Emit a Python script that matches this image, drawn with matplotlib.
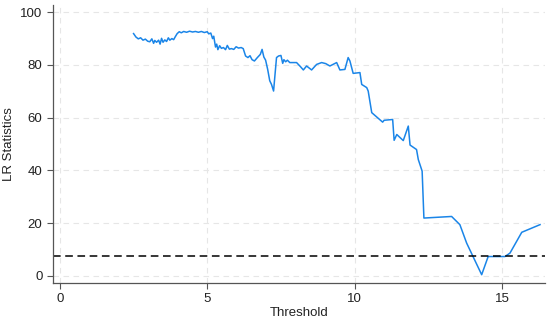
import numpy as np
import matplotlib.pyplot as plt

plt.rcParams['font.family'] = ['Liberation Sans', 'DejaVu Sans']

thr = [2.50, 2.58, 2.66, 2.74, 2.82, 2.90, 2.98, 3.05, 3.12, 3.18, 3.22, 3.28, 3.35, 3.40, 3.45,
       3.50, 3.56, 3.62, 3.68, 3.73, 3.80, 3.86, 3.92, 3.98, 4.05, 4.12, 4.20, 4.30, 4.40, 4.50,
       4.60, 4.70, 4.80, 4.90, 5.00, 5.05, 5.12, 5.18, 5.22, 5.28, 5.32, 5.36, 5.42, 5.48, 5.55,
       5.62, 5.68, 5.75, 5.82, 5.90, 5.98, 6.06, 6.15, 6.22, 6.30, 6.38, 6.45, 6.52, 6.60, 6.70,
       6.80, 6.86, 6.92, 6.98, 7.05, 7.12, 7.18, 7.25, 7.30, 7.35, 7.42, 7.50, 7.56, 7.60, 7.66,
       7.72, 7.80, 8.03, 8.15, 8.26, 8.37, 8.54, 8.71, 8.88, 9.02, 9.16, 9.39, 9.50, 9.67, 9.78,
       9.84, 9.95, 10.18, 10.24, 10.41, 10.46, 10.58, 10.95, 11.00, 11.29, 11.34, 11.43, 11.65,
       11.82, 11.88, 12.10, 12.16, 12.29, 12.35, 13.29, 13.57, 13.80, 14.31, 14.53, 15.10, 15.27,
       15.67, 16.29]
lr = [91.9, 90.6, 89.9, 90.3, 89.4, 89.8, 89.0, 88.8, 89.9, 88.2, 89.3, 88.6, 89.4, 87.9, 90.1,
      88.6, 89.5, 88.9, 90.3, 89.4, 90.0, 89.6, 90.8, 91.9, 92.6, 92.2, 92.7, 92.4, 92.8, 92.5,
      92.7, 92.4, 92.7, 92.3, 92.6, 91.8, 92.1, 90.0, 90.9, 86.8, 87.9, 85.8, 87.3, 86.3, 86.6,
      85.8, 87.4, 86.0, 86.2, 85.9, 86.9, 86.4, 86.6, 86.2, 83.4, 82.8, 83.5, 82.0, 81.5, 82.8,
      84.0, 85.9, 83.0, 81.8, 78.3, 74.0, 72.6, 70.1, 76.5, 82.8, 83.4, 83.6, 80.6, 82.0, 81.2,
      81.8, 80.9, 80.9, 79.5, 78.1, 79.6, 78.1, 80.2, 80.9, 80.5, 79.6, 80.9, 78.1, 78.3, 82.8,
      81.5, 76.8, 77.1, 72.6, 71.4, 70.1, 61.9, 58.3, 59.0, 59.3, 51.4, 53.6, 51.3,
      56.8, 49.6, 47.9, 44.1, 39.7, 21.9, 22.5, 19.4, 12.4, 0.4, 7.3, 7.3, 8.6,
      16.5, 19.4]
crit = 7.6

fig = plt.figure(figsize=(5.5, 3.2), dpi=100)
ax = fig.add_axes([0.096, 0.116, 0.895, 0.868])
ax.plot(thr, lr, color='#1a85e8', lw=1.1)
ax.axhline(crit, color='black', lw=1.1, ls=(0, (5, 3)))

ax.set_xlim(-0.24, 16.46)
ax.set_ylim(-2.7, 102.7)
ax.set_xticks([0, 5, 10, 15])
ax.set_yticks([0, 20, 40, 60, 80, 100])
ax.grid(True, color='#e6e6e6', ls=(0, (5, 4)), lw=0.8)
ax.set_axisbelow(True)
for s in ['top', 'right']:
    ax.spines[s].set_visible(False)
for s in ['left', 'bottom']:
    ax.spines[s].set_color('#555555')
    ax.spines[s].set_linewidth(0.9)
ax.tick_params(colors='#555555', labelcolor='#222222', labelsize=9.5, length=4, width=0.8)
ax.set_xlabel('Threshold', fontsize=9.5, color='#222222', labelpad=1)
ax.set_ylabel('LR Statistics', fontsize=9.5, color='#222222', labelpad=4)

fig.savefig('out.png', dpi=100)
